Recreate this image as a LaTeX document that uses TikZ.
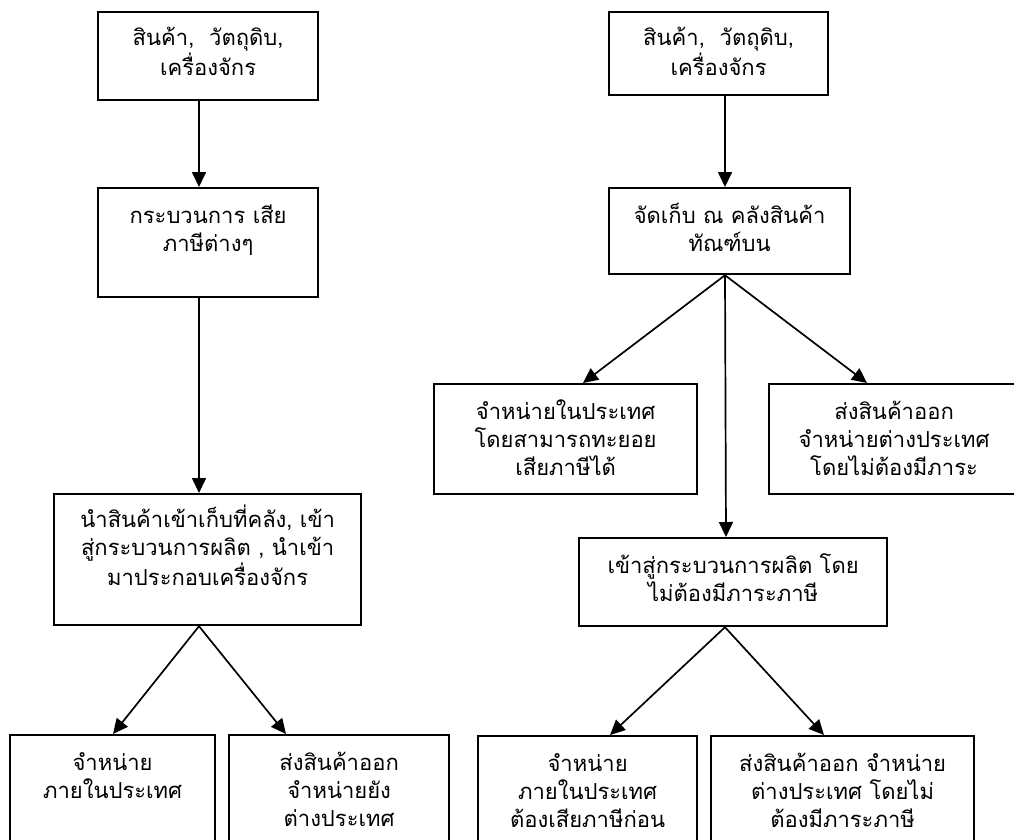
\documentclass[tikz,border=0pt]{standalone}
\usepackage{fontspec}
\setmainfont[Script=Thai]{Loma}
\usepackage{tikz}
\usetikzlibrary{calc,arrows.meta,positioning}
\definecolor{ink}{HTML}{000000}
\tikzset{
  box/.style={draw=ink, line width=2.2pt, anchor=north west, inner sep=0pt},
  lab/.style={text=ink, anchor=base, align=center, inner sep=0pt, font=\fontsize{22}{28}\selectfont},
  arr/.style={draw=ink, line width=1.7pt, -{Triangle[length=15pt,width=14pt]}},
}

\begin{document}
\begin{tikzpicture}[x=1pt, y=-1pt]
\useasboundingbox (0,0) rectangle (1014,839);
\clip (0,0) rectangle (1014,839);

% left chain
\node[box, minimum width=220pt, minimum height=88pt] (l1) at (97,11) {};
\node[box, minimum width=220pt, minimum height=109pt] (l2) at (97,187) {};
\node[box, minimum width=307pt, minimum height=131pt] (l3) at (53,493) {};
\node[box, minimum width=205pt, minimum height=130pt] (l4) at (9,734) {};
\node[box, minimum width=220pt, minimum height=130pt] (l5) at (228,734) {};

% right chain
\node[box, minimum width=219pt, minimum height=83pt] (r1) at (608,11) {};
\node[box, minimum width=241pt, minimum height=86pt] (r2) at (608,187) {};
\node[box, minimum width=263pt, minimum height=110pt] (r3) at (433,383) {};
\node[box, minimum width=250pt, minimum height=110pt] (r4) at (768,383) {};
\node[box, minimum width=308pt, minimum height=88pt] (r5) at (578,537) {};
\node[box, minimum width=219pt, minimum height=130pt] (r6) at (477,735) {};
\node[box, minimum width=263pt, minimum height=130pt] (r7) at (710,735) {};

% texts (base = last line)
\node[lab] (l1t) at ($(l1.north)+(0,64)$) {สินค้า,\ \ วัตถุดิบ,\\เครื่องจักร};
\node[lab] (l2t) at ($(l2.north)+(0,64)$) {กระบวนการ เสีย\\ภาษีต่างๆ};
\node[lab] (l3t) at ($(l3.north)+(0,92)$) {นำสินค้าเข้าเก็บที่คลัง, เข้า\\สู่กระบวนการผลิต , นำเข้า\\มาประกอบเครื่องจักร};
\node[lab] (l4t) at ($(l4.north)+(0,64)$) {จำหน่าย\\ภายในประเทศ};
\node[lab] (l5t) at ($(l5.north)+(0,92)$) {ส่งสินค้าออก\\จำหน่ายยัง\\ต่างประเทศ};
\node[lab] (r1t) at ($(r1.north)+(0,64)$) {สินค้า,\ \ วัตถุดิบ,\\เครื่องจักร};
\node[lab] (r2t) at ($(r2.north)+(0,64)$) {จัดเก็บ ณ คลังสินค้า\\ทัณฑ์บน};
\node[lab] (r3t) at ($(r3.north)+(0,92)$) {จำหน่ายในประเทศ\\โดยสามารถทะยอย\\เสียภาษีได้};
\node[lab] (r4t) at ($(r4.north)+(0,92)$) {ส่งสินค้าออก\\จำหน่ายต่างประเทศ\\โดยไม่ต้องมีภาระ};
\node[lab] (r5t) at ($(r5.north)+(0,64)$) {เข้าสู่กระบวนการผลิต โดย\\ไม่ต้องมีภาระภาษี};
\node[lab] (r6t) at ($(r6.north)+(0,92)$) {จำหน่าย\\ภายในประเทศ\\ต้องเสียภาษีก่อน};
\node[lab] (r7t) at ($(r7.north)+(0,92)$) {ส่งสินค้าออก จำหน่าย\\ต่างประเทศ โดยไม่\\ต้องมีภาระภาษี};

% arrows
\draw[arr] ($(l1.south west)+(102,0)$) -- ($(l2.north west)+(102,0)$);
\draw[arr] ($(l2.south west)+(102,0)$) -- ($(l3.north west)+(146,0)$);
\draw[arr] ($(l3.south west)+(146,0)$) -- ($(l4.north west)+(104,0)$);
\draw[arr] ($(l3.south west)+(146,0)$) -- ($(l5.north west)+(58,0)$);

\draw[arr] ($(r1.south west)+(117,0)$) -- ($(r2.north west)+(117,0)$);
\draw[arr] ($(r2.south west)+(117,0)$) -- ($(r3.north west)+(150,0)$);
\draw[arr] ($(r2.south west)+(117,0)$) -- ($(r4.north west)+(99,0)$);
\draw[arr] ($(r2.south west)+(117,0)$) -- ($(r5.north west)+(148,0)$);
\draw[arr] ($(r5.south west)+(147,0)$) -- ($(r6.north west)+(133,0)$);
\draw[arr] ($(r5.south west)+(147,0)$) -- ($(r7.north west)+(114,0)$);
\end{tikzpicture}
\end{document}
